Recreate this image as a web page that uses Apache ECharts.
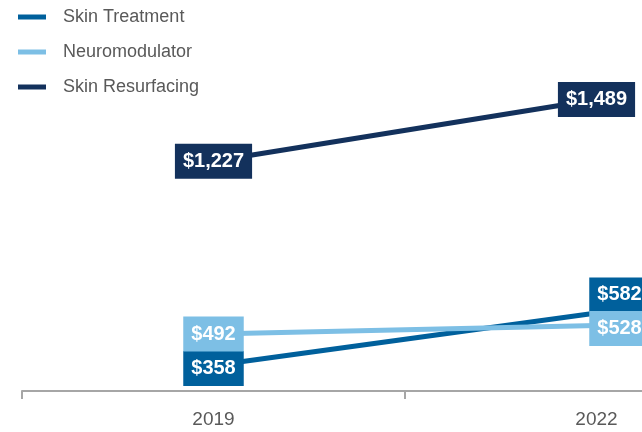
<!DOCTYPE html>
<html>
<head>
<meta charset="utf-8">
<script src="https://cdn.jsdelivr.net/npm/echarts@6/dist/echarts.min.js"></script>
<style>
  html, body { margin: 0; padding: 0; background: #fff; }
  #chart { width: 642px; height: 432px; }
</style>
</head>
<body>
<div id="chart"></div>
<script>
// data
var years = ['2019', '2022']
var seriesNames = ['Skin Treatment', 'Neuromodulator', 'Skin Resurfacing']
var skinTreatment = [358, 582]
var neuromodulator = [492, 528]
var skinResurfacing = [1227, 1489]

var colors = ['#00609c', '#7dbfe5', '#13315c']
// label nudges so boxes don't sit on each other
var labelOffsets = [
  [[0, 3], [23, -18]],
  [[0, 0], [23, 3]],
  [[0, 0], [0, 0]]
]

var fontFam = 'Arial, "Liberation Sans", sans-serif'

function buildSeries(idx, values) {
  return {
    name: seriesNames[idx],
    type: 'line',
    data: values.map(function (v, i) {
      return { value: v, label: { offset: labelOffsets[idx][i] } }
    }),
    symbol: 'circle',
    symbolSize: 1,
    showSymbol: true,
    lineStyle: { width: 5, color: colors[idx] },
    itemStyle: { color: colors[idx] },
    label: {
      show: true,
      position: 'inside',
      formatter: function (p) {
        return '$' + p.value.toLocaleString('en-US')
      },
      color: '#fff',
      fontFamily: fontFam,
      fontWeight: 'bold',
      fontSize: 20,
      lineHeight: 21,
      backgroundColor: colors[idx],
      padding: [7, 8, 7, 8]
    },
    animation: false
  }
}

var chart = echarts.init(document.getElementById('chart'))
chart.setOption({
  color: colors,
  legend: {
    orient: 'vertical',
    left: 13,
    top: 3,
    icon: 'rect',
    itemWidth: 28,
    itemHeight: 5,
    itemGap: 17,
    data: seriesNames,
    textStyle: {
      fontFamily: fontFam,
      fontSize: 18,
      color: '#595959',
      padding: [0, 0, 0, 12]
    }
  },
  grid: {
    left: 22,
    width: 766,
    top: 97,
    bottom: 41,
    containLabel: false,
    outerBoundsMode: 'none'
  },
  xAxis: {
    type: 'category',
    data: years,
    boundaryGap: true,
    axisLine: { lineStyle: { color: '#a6a6a6', width: 2 } },
    axisTick: { show: true, length: 8, lineStyle: { color: '#a6a6a6', width: 2 } },
    axisLabel: {
      fontFamily: fontFam,
      fontSize: 19,
      color: '#595959',
      margin: 19
    }
  },
  yAxis: {
    type: 'value',
    show: false,
    min: 250,
    max: 1500
  },
  series: [
    buildSeries(0, skinTreatment),
    buildSeries(1, neuromodulator),
    buildSeries(2, skinResurfacing)
  ]
})
</script>
</body>
</html>
